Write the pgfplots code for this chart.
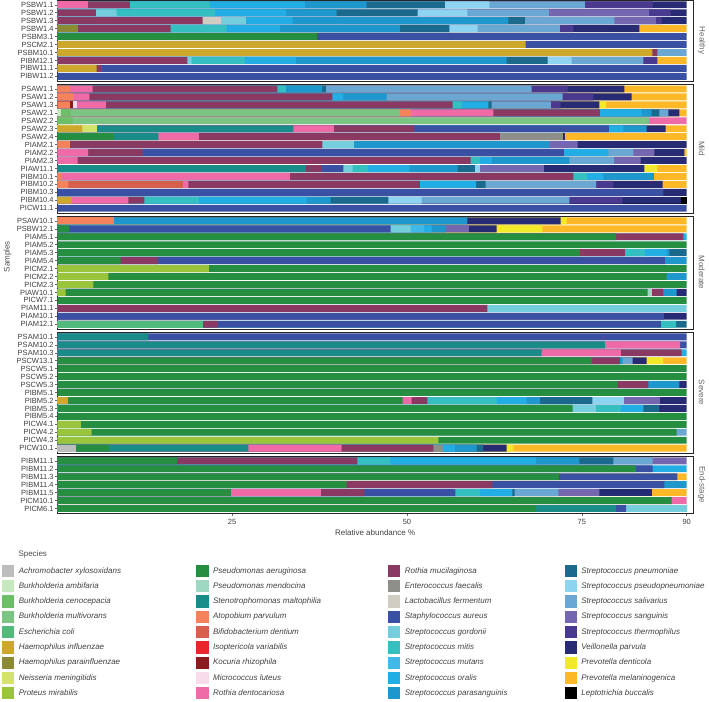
\documentclass[border=0pt]{standalone}
\usepackage{fontspec}
\setmainfont{Liberation Sans}
\usepackage{pgfplots}
\pgfplotsset{compat=1.18}

\definecolor{cAch}{HTML}{BDBDBD}
\definecolor{cBamb}{HTML}{C7E9C0}
\definecolor{cBcen}{HTML}{6CBE67}
\definecolor{cBmul}{HTML}{7AC584}
\definecolor{cEcol}{HTML}{52BA7C}
\definecolor{cHinf}{HTML}{CDA82C}
\definecolor{cHpar}{HTML}{8B8B35}
\definecolor{cNmen}{HTML}{D3E36B}
\definecolor{cPmir}{HTML}{9AC43C}
\definecolor{cPaer}{HTML}{258E40}
\definecolor{cPmen}{HTML}{9FD8C2}
\definecolor{cSmal}{HTML}{198C8A}
\definecolor{cApar}{HTML}{F4825A}
\definecolor{cBden}{HTML}{D7604C}
\definecolor{cIvar}{HTML}{E8262B}
\definecolor{cKrhi}{HTML}{8C1B1F}
\definecolor{cMlut}{HTML}{F8DCEB}
\definecolor{cRden}{HTML}{EF6BA8}
\definecolor{cRmuc}{HTML}{8A3A62}
\definecolor{cEfae}{HTML}{8E8E8A}
\definecolor{cLfer}{HTML}{CFCDC1}
\definecolor{cSaur}{HTML}{3A50A2}
\definecolor{cSgor}{HTML}{74CEDC}
\definecolor{cSmit}{HTML}{35BFC1}
\definecolor{cSmut}{HTML}{40B9E9}
\definecolor{cSora}{HTML}{22AEE5}
\definecolor{cSpar}{HTML}{1E98CC}
\definecolor{cSpne}{HTML}{1B6A8D}
\definecolor{cSpse}{HTML}{8ED3F0}
\definecolor{cSsal}{HTML}{6BA7D3}
\definecolor{cSsan}{HTML}{7566B0}
\definecolor{cSthe}{HTML}{4A3A8F}
\definecolor{cVpar}{HTML}{262B73}
\definecolor{cPden}{HTML}{F2E92A}
\definecolor{cPmel}{HTML}{FDB827}
\definecolor{cLbuc}{HTML}{000000}

% each species is drawn from 0 to its cumulative end; species are drawn
% from the last in stacking order to the first, so that each visible
% segment spans [end of previous species, end of this species]
\newcommand{\bars}[2]{\addplot[fill=#1] coordinates {#2};}
\newcommand{\leg}[2]{\addlegendimage{fill=#1,draw=none}\addlegendentry{#2}}
\newcommand{\strip}[1]{\path (rel axis cs:1,0.5) ++(8.6pt,0pt) node[rotate=-90, font=\fontsize{8}{9}\selectfont, text=black!60] {#1};}

\pgfplotsset{
  panel/.style={
    scale only axis, width=635.7pt,
    xmin=0, xmax=90.9, ymin=0.4,
    y dir=reverse, clip=false,
    axis line style={draw=black!85, line width=0.8pt},
    tick style={draw=black!60, line width=0.5pt},
    major tick length=2.5pt,
    tick align=outside,
    xtick pos=bottom, ytick pos=left,
    yticklabel style={font=\fontsize{7.5}{8}\selectfont, text=black!75, inner sep=1pt},
    xticklabel style={font=\fontsize{7.5}{8}\selectfont, text=black!75},
    /pgf/number format/assume math mode=true,
    xtick=\empty,
    anchor=north west,
    every axis plot/.append style={xbar, bar width=6.9pt, bar shift=0pt, draw=none},
  },
  legendbox/.style={
    hide axis, scale only axis, width=1pt, height=1pt,
    xmin=0, xmax=1, ymin=0, ymax=1, anchor=north west,
    legend style={at={(0,1)}, anchor=north west, draw=none, fill=none,
      inner sep=0pt, row sep=3pt, nodes={inner sep=0pt},
      font=\fontsize{8}{9}\selectfont\itshape, text=black!75,
      /tikz/every odd column/.append style={column sep=4.6pt}},
    legend cell align=left,
    legend image code/.code={\fill[##1] (0pt,-6.15pt) rectangle (12.3pt,6.15pt);},
  },
}

\begin{document}
\begin{tikzpicture}
\path[use as bounding box] (0pt,0pt) rectangle (709pt,-701pt);

% ---------------- Healthy ----------------
\begin{axis}[panel, at={(57.3pt,0pt)}, height=81.09pt, ymax=10.6,
  ytick={1,...,10},
  yticklabels={PSBW1.1,PSBW1.2,PSBW1.3,PSBW1.4,PSBM3.1,PSCM2.1,PSBM10.1,PIBM12.1,PIBW11.1,PIBW11.2}]
\bars{cPmel}{(90,4)(90,8)}
\bars{cVpar}{(90,1)(90,2)(90,3)(83.22,4)}
\bars{cSthe}{(85.13,1)(87.7,2)(86.42,3)(73.78,4)(85.8,8)}
\bars{cSsan}{(84.6,2)(85.6,3)}
\bars{cSsal}{(75.45,1)(70.3,2)(79.65,3)(71.88,4)(90,7)(83.79,8)}
\bars{cSpse}{(61.77,1)(58.63,2)(60.1,4)(73.55,8)}
\bars{cSpne}{(55.43,1)(51.53,2)(66.87,3)(56.05,4)(70.11,8)}
\bars{cSpar}{(44.23,1)(39.94,2)(64.49,3)(49.0,4)(64.25,8)}
\bars{cSora}{(35.41,1)(32.7,2)(33.65,3)(31.84,4)(34.13,8)}
\bars{cSmit}{(21.83,1)(22.55,2)(24.21,4)(26.83,8)}
\bars{cSgor}{(8.48,2)(26.98,3)(19.21,8)}
\bars{cSaur}{(90,5)(90,6)(90,9)(90,10)}
\bars{cLfer}{(23.36,3)}
\bars{cRmuc}{(10.39,1)(5.53,2)(20.78,3)(16.21,4)(85.8,7)(18.59,8)(6.34,9)}
\bars{cRden}{(4.43,1)}
\bars{cPaer}{(37.08,5)}
\bars{cHpar}{(3.0,4)}
\bars{cHinf}{(66.97,6)(85.08,7)(5.62,9)}
\strip{Healthy}
\end{axis}

% ---------------- Mild ----------------
\begin{axis}[panel, at={(57.3pt,-84.2pt)}, height=128.79pt, ymax=16.6,
  ytick={1,...,16},
  yticklabels={PSAW1.1,PSAW1.2,PSAW1.3,PSAW2.1,PSAW2.2,PSAW2.3,PSAW2.4,PIAM2.1,PIAM2.2,PIAM2.3,PIAW11.1,PIBM10.1,PIBM10.2,PIBM10.3,PIBM10.4,PICW11.1}]
\bars{cLbuc}{(90.1,15)}
\bars{cPmel}{(90,1)(90,2)(90,3)(90,4)(90,6)(90,7)(90,9)(90,11)(90,12)(90,13)}
\bars{cPden}{(78.46,3)(85.8,11)}
\bars{cVpar}{(81.08,1)(82.13,2)(77.5,3)(88.94,4)(86.99,6)(72.59,7)(90,8)(89.66,9)(90,10)(83.94,11)(86.56,13)(90,14)(89.18,15)}
\bars{cSthe}{(72.97,1)(76.64,2)(71.97,3)(79.5,13)(80.84,15)}
\bars{cSsan}{(74.4,8)(85.37,9)(83.41,10)(69.59,11)}
\bars{cSsal}{(67.83,1)(72.26,2)(70.59,3)(87.37,4)(82.36,9)(79.6,10)(77.03,13)(73.21,15)}
\bars{cSpse}{(60.44,11)(52.1,15)}
\bars{cSpne}{(38.42,1)(62.11,3)(86.08,4)(59.72,11)(61.25,13)(47.33,15)}
\bars{cSpar}{(37.85,1)(47.09,2)(84.99,4)(84.27,6)(70.35,8)(73.21,10)(57.24,11)(85.32,12)(39.08,15)}
\bars{cSora}{(40.9,2)(61.63,3)(83.56,4)(80.93,6)(78.79,9)(62.11,10)(50.33,11)(78.07,12)(59.87,13)(35.65,15)}
\bars{cSmit}{(32.7,1)(57.82,3)(60.44,10)(44.47,11)(75.79,12)(20.26,15)}
\bars{cSgor}{(42.42,8)(42.23,11)}
\bars{cSaur}{(78.88,6)(72.45,9)(40.9,11)(86.65,14)(90,16)}
\bars{cEfae}{(72.36,7)}
\bars{cRmuc}{(31.46,1)(39.32,2)(56.53,3)(77.6,4)(51.0,6)(63.3,7)(37.89,8)(12.2,9)(59.1,10)(37.8,11)(73.78,12)(51.86,13)(12.44,15)}
\bars{cRden}{(5.05,1)(4.58,2)(6.96,3)(62.35,4)(90,5)(39.56,6)(20.26,7)(4.39,9)(2.91,10)(33.27,12)(18.73,13)(10.15,15)}
\bars{cMlut}{(2.76,3)}
\bars{cKrhi}{(2.29,3)}
\bars{cBden}{(17.92,13)}
\bars{cApar}{(1.81,1)(2.29,2)(1.81,3)(50.57,4)(1.81,8)(0.62,12)(1.57,13)}
\bars{cSmal}{(33.75,6)(14.44,7)(35.56,11)}
\bars{cPaer}{(8.1,7)}
\bars{cNmen}{(5.62,6)}
\bars{cHinf}{(3.57,6)(2.05,15)}
\bars{cBmul}{(49.0,4)(84.6,5)}
\bars{cBcen}{(1.91,4)(2.19,5)}
\bars{cBamb}{(0.48,4)}
\strip{Mild}
\end{axis}

% ---------------- Moderate ----------------
\begin{axis}[panel, at={(57.3pt,-216.1pt)}, height=112.89pt, ymax=14.6,
  ytick={1,...,14},
  yticklabels={PSAW10.1,PSBW12.1,PIAM5.1,PIAM5.2,PIAM5.3,PIAM5.4,PICM2.1,PICM2.2,PICM2.3,PIAW10.1,PICW7.1,PIAM11.1,PIAM10.1,PIAM12.1}]
\bars{cPmel}{(90,1)(90,2)}
\bars{cPden}{(72.83,1)(69.35,2)}
\bars{cVpar}{(71.97,1)(62.82,2)(90,10)(90,13)}
\bars{cSsan}{(58.87,2)}
\bars{cSpne}{(90,5)(90,14)}
\bars{cSpar}{(58.63,1)(55.53,2)(87.51,5)(90,6)(90,8)(88.56,10)}
\bars{cSora}{(53.53,2)(90,3)(87.13,5)}
\bars{cSmut}{(52.43,2)}
\bars{cSmit}{(84.03,5)(88.47,14)}
\bars{cSgor}{(50.52,2)(90,12)}
\bars{cSaur}{(47.66,2)(86.89,6)(86.75,13)(86.32,14)}
\bars{cRmuc}{(89.51,3)(81.17,5)(14.35,6)(86.65,10)(61.49,12)(22.93,14)}
\bars{cApar}{(8.1,1)}
\bars{cPmen}{(85.08,10)}
\bars{cPaer}{(1.72,2)(79.89,3)(90,4)(74.74,5)(9.06,6)(90,7)(87.13,8)(90,9)(84.41,10)(90,11)}
\bars{cPmir}{(21.69,7)(7.29,8)(5.15,9)(1.19,10)}
\bars{cEcol}{(20.88,14)}
\strip{Moderate}
\end{axis}

% ---------------- Severe ----------------
\begin{axis}[panel, at={(57.3pt,-332.1pt)}, height=120.84pt, ymax=15.6,
  ytick={1,...,15},
  yticklabels={PSAM10.1,PSAM10.2,PSAM10.3,PSCW13.1,PSCW5.1,PSCW5.2,PSCW5.3,PIBM5.1,PIBM5.2,PIBM5.3,PIBM5.4,PICW4.1,PICW4.2,PICW4.3,PICW10.1}]
\bars{cPmel}{(90,4)(90,15)}
\bars{cPden}{(86.65,4)(65.2,15)}
\bars{cVpar}{(84.27,4)(90,7)(90,9)(90,10)(64.25,15)}
\bars{cSsan}{(86.18,9)}
\bars{cSsal}{(82.27,4)(90,13)}
\bars{cSpse}{(81.03,9)}
\bars{cSpne}{(76.5,9)(86.08,10)(60.91,15)}
\bars{cSpar}{(80.84,4)(88.94,7)(69.02,9)(59.96,15)}
\bars{cSora}{(90,3)(67.11,9)(83.79,10)(56.86,15)}
\bars{cSmit}{(62.82,9)(80.55,10)}
\bars{cSgor}{(77.03,10)}
\bars{cSaur}{(90,1)(90,2)}
\bars{cEfae}{(55.1,15)}
\bars{cRmuc}{(89.28,3)(80.46,4)(84.51,7)(52.91,9)(53.77,15)}
\bars{cRden}{(89.04,2)(80.6,3)(50.67,9)(40.66,15)}
\bars{cSmal}{(13.01,1)(78.31,2)(69.26,3)(27.31,15)}
\bars{cPaer}{(76.41,4)(90,5)(90,6)(80.12,7)(90,8)(49.38,9)(73.68,10)(90,11)(90,12)(88.56,13)(90,14)(7.39,15)}
\bars{cPmir}{(3.38,12)(4.91,13)(54.48,14)}
\bars{cHinf}{(1.48,9)}
\bars{cAch}{(2.67,15)}
\strip{Severe}
\end{axis}

% ---------------- End-stage ----------------
\begin{axis}[panel, at={(57.3pt,-456.04pt)}, height=57.24pt, ymax=7.6,
  ytick={1,...,7},
  yticklabels={PIBM11.1,PIBM11.2,PIBM11.3,PIBM11.4,PIBM11.5,PICM10.1,PICM6.1},
  xtick={25,50,75,90},
  xlabel={Relative abundance \%},
  xlabel style={at={(axis description cs:0.5,0)}, anchor=center, yshift=-19.7pt,
    font=\fontsize{8}{9}\selectfont, text=black!75}]
\bars{cPmel}{(90,3)(90,5)}
\bars{cVpar}{(84.99,5)}
\bars{cSsan}{(90,1)(77.5,5)}
\bars{cSsal}{(85.13,1)(71.64,5)}
\bars{cSpne}{(79.5,1)(65.39,5)}
\bars{cSpar}{(74.64,1)(90,4)}
\bars{cSora}{(68.45,1)(90,2)(65.06,5)}
\bars{cSmit}{(47.57,1)(60.44,5)}
\bars{cSgor}{(90,7)}
\bars{cSaur}{(85.13,2)(88.66,3)(86.8,4)(56.91,5)(81.32,7)}
\bars{cRmuc}{(42.9,1)(62.2,4)(43.9,5)}
\bars{cRden}{(37.7,5)(90,6)}
\bars{cSmal}{(79.89,7)}
\bars{cPaer}{(17.16,1)(82.75,2)(71.73,3)(41.37,4)(24.83,5)(87.85,6)(68.45,7)}
\strip{End-stage}
\end{axis}

\node[rotate=90, font=\fontsize{8}{9}\selectfont, text=black!70] at (7.5pt,-256.6pt) {Samples};
\node[anchor=west, inner sep=0pt, font=\fontsize{8}{9}\selectfont, text=black!70] at (18.3pt,-554pt) {Species};

% ---------------- Legend (four columns) ----------------
\begin{axis}[legendbox, at={(1.7pt,-564.55pt)}]
\leg{cAch}{Achromobacter xylosoxidans}
\leg{cBamb}{Burkholderia ambifaria}
\leg{cBcen}{Burkholderia cenocepacia}
\leg{cBmul}{Burkholderia multivorans}
\leg{cEcol}{Escherichia coli}
\leg{cHinf}{Haemophilus influenzae}
\leg{cHpar}{Haemophilus parainfluenzae}
\leg{cNmen}{Neisseria meningitidis}
\leg{cPmir}{Proteus mirabilis}
\end{axis}
\begin{axis}[legendbox, at={(196pt,-564.55pt)}]
\leg{cPaer}{Pseudomonas aeruginosa}
\leg{cPmen}{Pseudomonas mendocina}
\leg{cSmal}{Stenotrophomonas maltophilia}
\leg{cApar}{Atopobium parvulum}
\leg{cBden}{Bifidobacterium dentium}
\leg{cIvar}{Isoptericola variabilis}
\leg{cKrhi}{Kocuria rhizophila}
\leg{cMlut}{Micrococcus luteus}
\leg{cRden}{Rothia dentocariosa}
\end{axis}
\begin{axis}[legendbox, at={(387.7pt,-564.55pt)}]
\leg{cRmuc}{Rothia mucilaginosa}
\leg{cEfae}{Enterococcus faecalis}
\leg{cLfer}{Lactobacillus fermentum}
\leg{cSaur}{Staphylococcus aureus}
\leg{cSgor}{Streptococcus gordonii}
\leg{cSmit}{Streptococcus mitis}
\leg{cSmut}{Streptococcus mutans}
\leg{cSora}{Streptococcus oralis}
\leg{cSpar}{Streptococcus parasanguinis}
\end{axis}
\begin{axis}[legendbox, at={(564.3pt,-564.55pt)}]
\leg{cSpne}{Streptococcus pneumoniae}
\leg{cSpse}{Streptococcus pseudopneumoniae}
\leg{cSsal}{Streptococcus salivarius}
\leg{cSsan}{Streptococcus sanguinis}
\leg{cSthe}{Streptococcus thermophilus}
\leg{cVpar}{Veillonella parvula}
\leg{cPden}{Prevotella denticola}
\leg{cPmel}{Prevotella melaninogenica}
\leg{cLbuc}{Leptotrichia buccalis}
\end{axis}
\end{tikzpicture}
\end{document}
